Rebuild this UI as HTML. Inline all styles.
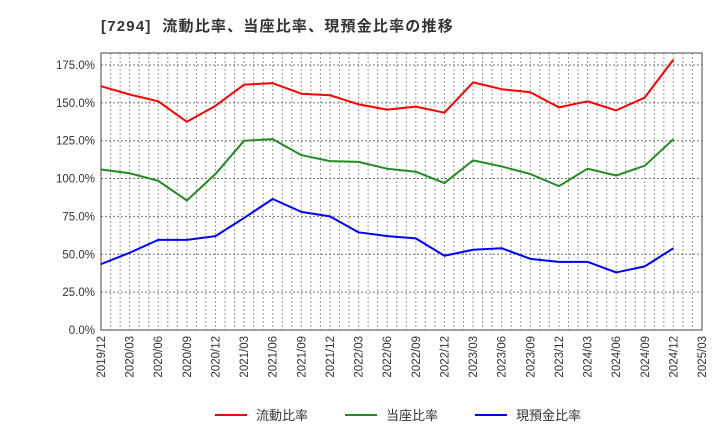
<!DOCTYPE html>
<html><head><meta charset="utf-8"><style>
body{margin:0;background:#fff;font-family:"Liberation Sans","Noto Sans CJK JP",sans-serif}
</style></head><body>
<svg width="720" height="440" xmlns="http://www.w3.org/2000/svg">
<text x="101" y="31" font-size="15" font-weight="bold" fill="#333" letter-spacing="1.2" xml:space="preserve" font-family="Liberation Sans, Noto Sans CJK JP, sans-serif">[7294]  流動比率、当座比率、現預金比率の推移</text>
<g id="grid"></g><g id="axes"></g><g id="series"></g><g id="legend"></g>
</svg>
<script>
const categories=["2019/12","2020/03","2020/06","2020/09","2020/12","2021/03","2021/06","2021/09","2021/12","2022/03","2022/06","2022/09","2022/12","2023/03","2023/06","2023/09","2023/12","2024/03","2024/06","2024/09","2024/12","2025/03"];
const currentRatio=[161,155.5,151,137.5,148,162,163,156,155,149,145.5,147.5,143.5,163.5,159,157,147,151,145,153.5,178.5];
const quickRatio=[106,103.5,98.5,85.5,103,125,126,115.5,111.5,111,106.5,104.5,97,112,108,103,95,106.5,102,108.5,126];
const cashRatio=[43.5,51,59.5,59.5,62,74,86.5,78,75,64.5,62,60.5,49,53,54,47,45,45,38,42,54];
const yTicks=[0,25,50,75,100,125,150,175];
const seriesNames=["流動比率","当座比率","現預金比率"];
const NS="http://www.w3.org/2000/svg";
const L=101,R=702,T=53,B=330,yMax=182.9;
const xs=i=>L+(R-L)*i/(categories.length-1);
const ys=v=>B-(B-T)*v/yMax;
function mk(tag,attrs,parent){const e=document.createElementNS(NS,tag);for(const k in attrs)e.setAttribute(k,attrs[k]);parent.appendChild(e);return e;}
const grid=document.getElementById('grid'),axes=document.getElementById('axes'),ser=document.getElementById('series'),leg=document.getElementById('legend');
for(let m=1;m<(categories.length-1)*3;m++){const x=L+(R-L)*m/((categories.length-1)*3);
const g=mk('line',{x1:x,x2:x,y1:T,y2:B,stroke:'#999','stroke-dasharray':'2,2','stroke-width':1},grid);

}
yTicks.forEach(v=>{const y=ys(v);
const g=mk('line',{x1:L,x2:R,y1:y,y2:y,stroke:'#777','stroke-dasharray':'2,2','stroke-width':1},grid);


const t=mk('text',{x:L-6,y:y+4,'text-anchor':'end','font-size':11.5,fill:'#333'},axes);t.textContent=v.toFixed(1)+'%';

});
const fr=mk('rect',{x:L,y:T,width:R-L,height:B-T,fill:'none',stroke:'#444','stroke-width':1},axes);


categories.forEach((c,i)=>{const x=xs(i);
const t=mk('text',{x:x+4,y:B+6,'text-anchor':'end','font-size':11.5,fill:'#333',transform:`rotate(-90 ${x+4} ${B+6})`},axes);t.textContent=c;

});
const colors=['#ff0000','#228b22','#0000ff'];
[currentRatio,quickRatio,cashRatio].forEach((d,k)=>{
const p=mk('polyline',{points:d.map((v,i)=>xs(i)+','+ys(v)).join(' '),fill:'none',stroke:colors[k],'stroke-width':2,'stroke-linejoin':'round'},ser);


const lx=[215,345,475][k];
const ll=mk('line',{x1:lx,x2:lx+32,y1:415,y2:415,stroke:colors[k],'stroke-width':2},leg);


const lt=mk('text',{x:lx+41,y:420,'font-size':13,fill:'#333'},leg);lt.textContent=seriesNames[k];


});
</script>
</body></html>
